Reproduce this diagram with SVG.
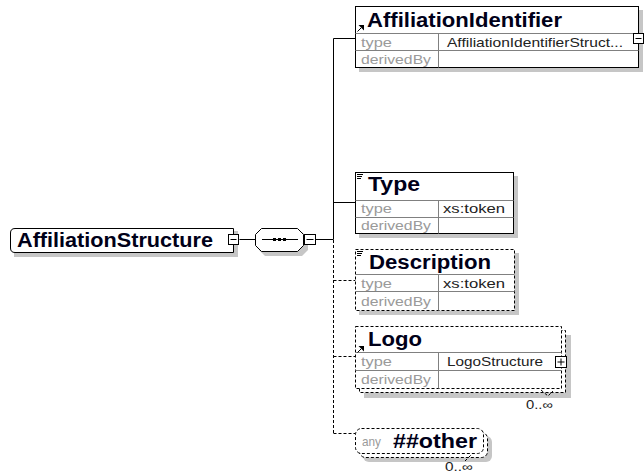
<svg xmlns="http://www.w3.org/2000/svg" width="644" height="476" viewBox="0 0 644 476">
<defs>
<style>
.box{fill:#fff;stroke:#000;stroke-width:1}
.dbox{fill:#fff;stroke:#000;stroke-width:1;stroke-dasharray:3 2}
.sh{fill:#c6c6c6}
.ln{stroke:#000;stroke-width:1;fill:none}
.dl{stroke:#000;stroke-width:1;fill:none;stroke-dasharray:3 2}
.sep{stroke:#808080;stroke-width:1}
.ic{stroke:#000;stroke-width:1}
.t{font-family:"Liberation Sans",Arial,sans-serif;font-weight:bold;font-size:20px;fill:#000018}
.lab{font-family:"Liberation Sans",Arial,sans-serif;font-size:13px;fill:#9a9a9a}
.val{font-family:"Liberation Sans",Arial,sans-serif;font-size:13px;fill:#222}
.occ{font-family:"Liberation Sans",Arial,sans-serif;font-size:12px;fill:#222}
</style>
</defs>
<rect width="644" height="476" fill="#fff"/>

<g id="connectors">
<line class="ln" x1="239.5" y1="239.5" x2="255.5" y2="239.5"/>
<line class="ln" x1="315.5" y1="239.5" x2="333.5" y2="239.5"/>
<line class="ln" x1="333.5" y1="38.5" x2="333.5" y2="239.5"/>
<line class="dl" x1="333.5" y1="240" x2="333.5" y2="433.5"/>
<line class="ln" x1="333.5" y1="38.5" x2="355.5" y2="38.5"/>
<line class="ln" x1="333.5" y1="202.5" x2="355.5" y2="202.5"/>
<line class="dl" x1="333.5" y1="280.5" x2="355.5" y2="280.5"/>
<line class="dl" x1="333.5" y1="356.5" x2="355.5" y2="356.5"/>
<line class="dl" x1="333.5" y1="433.5" x2="355.5" y2="433.5"/>
</g>

<g id="AffiliationStructure">
<path class="sh" d="M14 231 H238 V257 H14 Z"/>
<path class="box" d="M15 228.5 H233.5 V252.5 H15 Q10.5 252.5 10.5 248 V233 Q10.5 228.5 15 228.5 Z"/>
<text class="t" x="17" y="247" textLength="196" lengthAdjust="spacingAndGlyphs">AffiliationStructure</text>
<rect class="box" x="228.5" y="234.5" width="10" height="10"/>
<line class="ic" x1="230.5" y1="239.5" x2="236.5" y2="239.5"/>
</g>

<g id="sequence">
<polygon class="sh" points="265,232 302,232 308,238 308,250 302,256 265,256 259,250 259,238"/>
<polygon class="box" points="261.5,228.5 297.5,228.5 303.5,234.5 303.5,245.5 297.5,251.5 261.5,251.5 255.5,245.5 255.5,234.5"/>
<line class="ic" x1="262" y1="239.5" x2="298" y2="239.5"/>
<rect x="273" y="238" width="3" height="3" fill="#000"/>
<rect x="278" y="238" width="3" height="3" fill="#000"/>
<rect x="283" y="238" width="3" height="3" fill="#000"/>
<rect class="box" x="304.5" y="234.5" width="11" height="10"/>
<line class="ic" x1="306.5" y1="239.5" x2="313.5" y2="239.5"/>
</g>

<g id="AffiliationIdentifier">
<rect class="sh" x="359" y="10" width="284" height="62"/>
<rect class="box" x="355.5" y="6.5" width="283" height="61"/>
<line class="sep" x1="355.5" y1="33.5" x2="638.5" y2="33.5"/>
<line class="sep" x1="355.5" y1="50.5" x2="638.5" y2="50.5"/>
<line class="sep" x1="438.5" y1="33.5" x2="438.5" y2="67.5"/>
<path class="ic" d="M357.5 31.5 L361 28" stroke-width="1.8"/>
<polygon points="364,25 364,30.5 358.5,25" fill="#000"/>
<text class="t" x="367" y="27" textLength="195" lengthAdjust="spacingAndGlyphs">AffiliationIdentifier</text>
<text class="lab" x="361" y="47" textLength="31" lengthAdjust="spacingAndGlyphs">type</text>
<text class="lab" x="361" y="64" textLength="70" lengthAdjust="spacingAndGlyphs">derivedBy</text>
<text class="val" x="447" y="47" textLength="176" lengthAdjust="spacingAndGlyphs">AffiliationIdentifierStruct...</text>
<rect class="box" x="633.5" y="33.5" width="10" height="10"/>
<line class="ic" x1="635.5" y1="38.5" x2="641.5" y2="38.5"/>
</g>

<g id="Type">
<rect class="sh" x="359" y="176" width="159" height="62"/>
<rect class="box" x="355.5" y="172.5" width="158" height="61"/>
<line class="sep" x1="355.5" y1="200.5" x2="513.5" y2="200.5"/>
<line class="sep" x1="355.5" y1="217.5" x2="513.5" y2="217.5"/>
<line class="sep" x1="438.5" y1="200.5" x2="438.5" y2="233.5"/>
<line class="ic" x1="357" y1="174.5" x2="363" y2="174.5"/>
<line class="ic" x1="357" y1="176.5" x2="362" y2="176.5"/>
<line class="ic" x1="357" y1="178.5" x2="361" y2="178.5"/>
<text class="t" x="368" y="191" textLength="52" lengthAdjust="spacingAndGlyphs">Type</text>
<text class="lab" x="361" y="213" textLength="31" lengthAdjust="spacingAndGlyphs">type</text>
<text class="lab" x="361" y="230" textLength="70" lengthAdjust="spacingAndGlyphs">derivedBy</text>
<text class="val" x="443" y="213" textLength="62" lengthAdjust="spacingAndGlyphs">xs:token</text>
</g>

<g id="Description">
<rect class="sh" x="359" y="253" width="160" height="62"/>
<rect class="dbox" x="355.5" y="249.5" width="159" height="61"/>
<line class="sep" x1="355.5" y1="274.5" x2="514.5" y2="274.5"/>
<line class="sep" x1="355.5" y1="291.5" x2="514.5" y2="291.5"/>
<line class="sep" x1="438.5" y1="274.5" x2="438.5" y2="310.5"/>
<line class="ic" x1="357" y1="251.5" x2="363" y2="251.5"/>
<line class="ic" x1="357" y1="253.5" x2="362" y2="253.5"/>
<line class="ic" x1="357" y1="255.5" x2="361" y2="255.5"/>
<text class="t" x="369" y="269" textLength="122" lengthAdjust="spacingAndGlyphs">Description</text>
<text class="lab" x="361" y="288" textLength="31" lengthAdjust="spacingAndGlyphs">type</text>
<text class="lab" x="361" y="306" textLength="70" lengthAdjust="spacingAndGlyphs">derivedBy</text>
<text class="val" x="443" y="288" textLength="62" lengthAdjust="spacingAndGlyphs">xs:token</text>
</g>

<g id="Logo">
<rect class="sh" x="364" y="335" width="207" height="63"/>
<rect class="dbox" x="359.5" y="330.5" width="206" height="62"/>
<rect class="dbox" x="355.5" y="326.5" width="206" height="62"/>
<line class="sep" x1="355.5" y1="352.5" x2="561.5" y2="352.5"/>
<line class="sep" x1="355.5" y1="370.5" x2="561.5" y2="370.5"/>
<line class="sep" x1="438.5" y1="352.5" x2="438.5" y2="388.5"/>
<path class="ic" d="M357.5 352.5 L361 349" stroke-width="1.8"/>
<polygon points="364,346 364,351.5 358.5,346" fill="#000"/>
<text class="t" x="368" y="346" textLength="54" lengthAdjust="spacingAndGlyphs">Logo</text>
<text class="lab" x="361" y="366" textLength="31" lengthAdjust="spacingAndGlyphs">type</text>
<text class="lab" x="361" y="384" textLength="70" lengthAdjust="spacingAndGlyphs">derivedBy</text>
<text class="val" x="447" y="366" textLength="96" lengthAdjust="spacingAndGlyphs">LogoStructure</text>
<rect class="box" x="555.5" y="356.5" width="11" height="11"/>
<line class="ic" x1="557.5" y1="362" x2="564.5" y2="362"/>
<line class="ic" x1="561" y1="358.5" x2="561" y2="365.5"/>
<polyline class="dl" points="541,390 548,396 553,391"/>
<text class="occ" x="526" y="409" textLength="27" lengthAdjust="spacingAndGlyphs">0..∞</text>
</g>

<g id="any">
<rect class="sh" x="363" y="436" width="129" height="26" rx="6"/>
<rect class="dbox" x="359.5" y="432.5" width="128" height="25" rx="6"/>
<rect class="dbox" x="355.5" y="428.5" width="128" height="25" rx="6"/>
<text class="lab" x="362" y="446" textLength="19" lengthAdjust="spacingAndGlyphs">any</text>
<text class="t" x="393" y="448" textLength="84" lengthAdjust="spacingAndGlyphs">##other</text>
<line class="dl" x1="465" y1="461" x2="472" y2="454"/>
<text class="occ" x="445" y="471" textLength="28" lengthAdjust="spacingAndGlyphs">0..∞</text>
</g>
</svg>
